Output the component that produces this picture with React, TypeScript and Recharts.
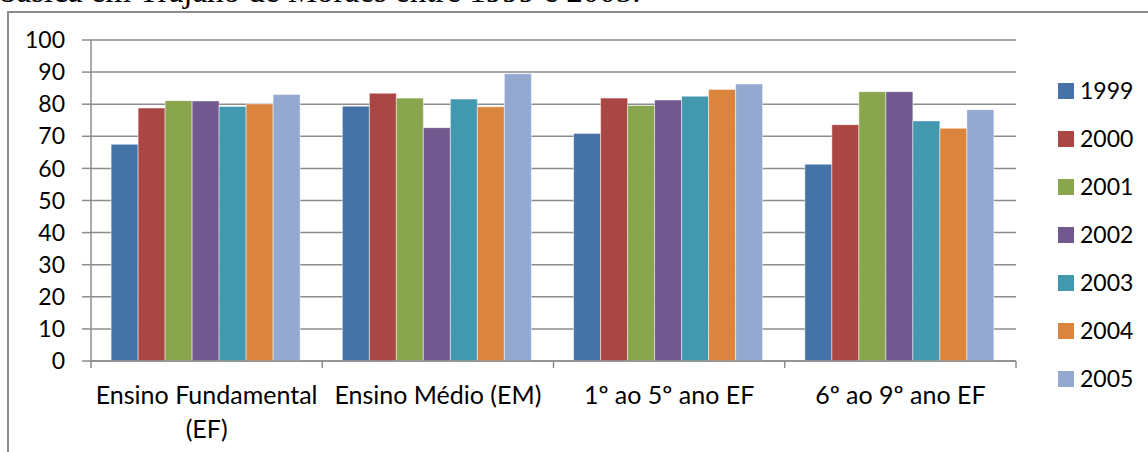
import { Bar, BarChart, CartesianGrid, Legend, XAxis, YAxis } from 'recharts';

const categories = [
  'Ensino Fundamental (EF)',
  'Ensino Médio (EM)',
  '1º ao 5º ano EF',
  '6º ao 9º ano EF',
];

const years = ['1999', '2000', '2001', '2002', '2003', '2004', '2005'];

// one array per year, same order as categories
const v1999 = [67.5, 79.4, 70.9, 61.3];
const v2000 = [78.8, 83.4, 81.9, 73.6];
const v2001 = [81.1, 81.9, 79.6, 83.9];
const v2002 = [81.0, 72.7, 81.3, 83.9];
const v2003 = [79.3, 81.6, 82.5, 74.8];
const v2004 = [80.1, 79.2, 84.6, 72.5];
const v2005 = [83.0, 89.5, 86.3, 78.3];

const yTicks = [0, 10, 20, 30, 40, 50, 60, 70, 80, 90, 100];

const seriesValues = [v1999, v2000, v2001, v2002, v2003, v2004, v2005];
const COLORS = ['#4572A7', '#AA4643', '#89A54E', '#71588F', '#4198AF', '#DB843D', '#93A9CF'];

const rows = categories.map((category, i) => {
  const row: Record<string, string | number> = { category };
  years.forEach((y, s) => {
    row[y] = seriesValues[s][i];
  });
  return row;
});

const FONT = 'Lato, "Liberation Sans", sans-serif';
const GRID = '#8c8c8c';

// word wrap, excel style: break when a line gets longer than ~20 chars
function wrapLabel(label: string, maxChars = 20) {
  const lines: string[] = [];
  let cur = '';
  label.split(' ').forEach((w) => {
    const next = cur ? cur + ' ' + w : w;
    if (next.length > maxChars && cur) {
      lines.push(cur);
      cur = w;
    } else {
      cur = next;
    }
  });
  if (cur) lines.push(cur);
  return lines;
}

function CategoryTick(props: any) {
  const { x, y, payload, index, visibleTicksCount } = props;
  const half = payload?.offset || 115.6;
  const lines = wrapLabel(String(payload.value));
  return (
    <g>
      <line x1={x - half} x2={x - half} y1={y} y2={y + 7} stroke={GRID} strokeWidth={1.5} />
      {index === visibleTicksCount - 1 && (
        <line x1={x + half} x2={x + half} y1={y} y2={y + 7} stroke={GRID} strokeWidth={1.5} />
      )}
      <text
        x={x}
        y={y + 43}
        textAnchor="middle"
        fill="#000"
        style={{ fontFamily: FONT, fontSize: 25 }}
      >
        {lines.map((l, i) => (
          <tspan key={i} x={x} dy={i === 0 ? 0 : 34}>
            {l}
          </tspan>
        ))}
      </text>
    </g>
  );
}

function YearLegend({ payload }: any) {
  return (
    <div>
      {(payload ?? []).map((p: any) => (
        <div
          key={p.value}
          style={{ display: 'flex', alignItems: 'center', height: 48 }}
        >
          <span
            style={{ display: 'inline-block', width: 16, height: 16, background: p.color, marginRight: 6 }}
          />
          <span style={{ fontFamily: FONT, fontSize: 23, color: '#000', lineHeight: 1 }}>
            {p.value}
          </span>
        </div>
      ))}
    </div>
  );
}

export default function App() {
  return (
    <div
      style={{
        position: 'absolute',
        left: 0,
        top: 0,
        width: 1148,
        height: 452,
        overflow: 'hidden',
        background: '#fff',
      }}
    >
      <div
        style={{
          position: 'absolute',
          left: 0,
          top: -25,
          whiteSpace: 'nowrap',
          fontFamily: '"Liberation Serif", "Times New Roman", serif',
          fontSize: 33,
          lineHeight: '33px',
          color: '#000',
        }}
      >
        básica em Trajano de Moraes entre 1999 e 2005.
      </div>
      <div
        style={{
          position: 'absolute',
          left: 7,
          top: 11,
          width: 1200,
          height: 500,
          borderLeft: '2px solid #8c8c8c',
          borderTop: '2px solid #8c8c8c',
        }}
      />
      <div style={{ position: 'absolute', left: 0, top: 0 }}>
        <BarChart
          width={1148}
          height={452}
          data={rows}
          margin={{ top: 40, right: 132, bottom: 0, left: 0 }}
          barCategoryGap="8.7%"
          barGap={0}
        >
          <CartesianGrid vertical={false} stroke={GRID} strokeWidth={1.5} />
          <XAxis
            dataKey="category"
            height={91}
            interval={0}
            tickLine={false}
            tickSize={0}
            tickMargin={0}
            axisLine={{ stroke: GRID, strokeWidth: 1.5 }}
            tick={<CategoryTick />}
          />
          <YAxis
            width={91}
            domain={[0, 100]}
            ticks={yTicks}
            interval={0}
            tickSize={9}
            tickMargin={17}
            axisLine={{ stroke: GRID, strokeWidth: 1.5 }}
            tickLine={{ stroke: GRID, strokeWidth: 1.5 }}
            tick={{ fill: '#000', fontSize: 23, fontFamily: FONT }}
          />
          <Legend
            layout="vertical"
            align="center"
            verticalAlign="middle"
            wrapperStyle={{ left: 1058, top: 66.7, width: 90 }}
            content={<YearLegend />}
          />
          {years.map((y, s) => (
            <Bar
              key={y}
              dataKey={y}
              name={y}
              fill={COLORS[s]}
              stroke="#ffffff"
              strokeOpacity={0.6}
              strokeWidth={0.8}
              isAnimationActive={false}
            />
          ))}
        </BarChart>
      </div>
    </div>
  );
}
